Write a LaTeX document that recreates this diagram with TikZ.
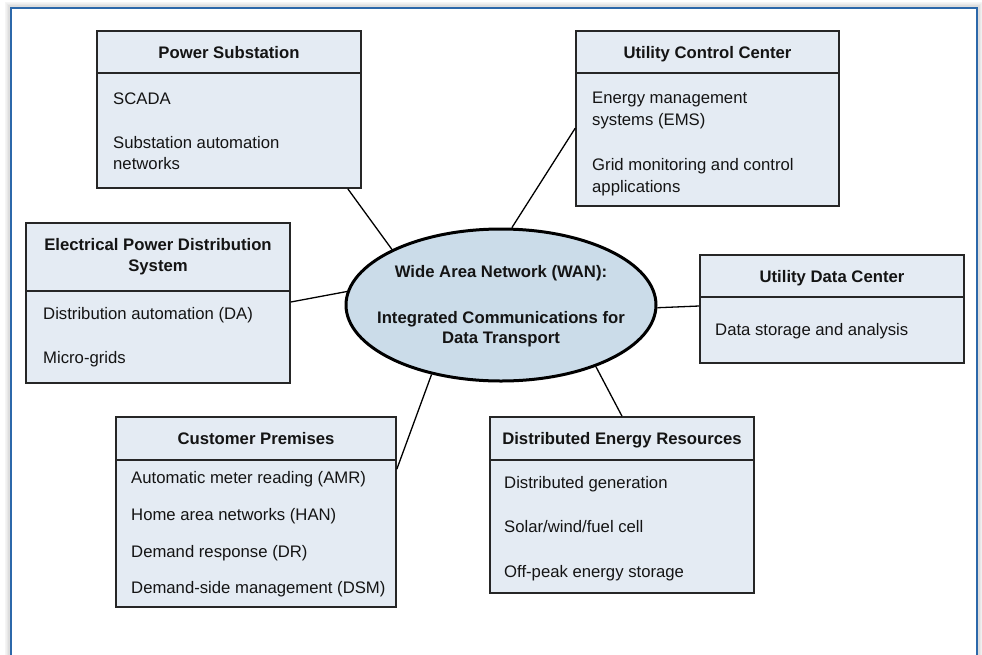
\documentclass[tikz,border=0pt]{standalone}
\usepackage{fontspec}
\setmainfont{Liberation Sans}
\usetikzlibrary{calc,shapes.geometric}
\definecolor{boxfill}{RGB}{228,235,243}
\definecolor{ellfill}{RGB}{203,220,233}
\definecolor{framec}{RGB}{44,104,170}
\begin{document}
\begin{tikzpicture}[x=1pt,y=-1pt,
  every node/.style={font=\fontsize{16.7}{21}\selectfont, text=black!92},
  infobox/.style={draw=black!85, line width=1.6pt, fill=boxfill, rectangle, inner sep=0pt},
  head/.style={font=\bfseries\fontsize{16.7}{21}\selectfont, anchor=base, inner sep=0pt},
  item/.style={anchor=base west, inner sep=0pt},
  divider/.style={line width=1.6pt, draw=black!85},
  link/.style={line width=1.3pt, draw=black}]
\useasboundingbox (0,0) rectangle (982,654);
% frame with shadow
\foreach \o/\c in {5/4,4/6,3/9,2/13}
  \draw[black!\c, line width=1.2pt] (11-\o,660) -- (11-\o,8-\o) -- (977+\o,8-\o) -- (977+\o,660);
\draw[framec, line width=2pt] (11,660) -- (11,8) -- (977,8) -- (977,660);

% central ellipse
\node[ellipse, draw=black, line width=3pt, fill=ellfill, minimum width=310pt, minimum height=152pt, inner sep=0pt] (wan) at (501,305) {};
\node[head] (wan-1) at (501,277) {Wide Area Network (WAN):};
\node[head] (wan-2) at (501,323) {Integrated Communications for};
\node[head] (wan-3) at (501,343) {Data Transport};

% Power Substation
\node[infobox, minimum width=264pt, minimum height=157pt] (ps) at (229,109.5) {};
\draw[divider] (ps.west |- 0,73) -- (ps.east |- 0,73);
\node[head] (ps-t) at (229,58) {Power Substation};
\node[item] (ps-1) at (113,104) {SCADA};
\node[item] (ps-2) at (113,148) {Substation automation};
\node[item] (ps-3) at (113,169) {networks};

% Utility Control Center
\node[infobox, minimum width=263pt, minimum height=175pt] (ucc) at (707.5,118.5) {};
\draw[divider] (ucc.west |- 0,73) -- (ucc.east |- 0,73);
\node[head] (ucc-t) at (707.5,58) {Utility Control Center};
\node[item] (ucc-1) at (592,103) {Energy management};
\node[item] (ucc-2) at (592,125) {systems (EMS)};
\node[item] (ucc-3) at (592,170) {Grid monitoring and control};
\node[item] (ucc-4) at (592,192) {applications};

% Electrical Power Distribution System
\node[infobox, minimum width=264pt, minimum height=160pt] (epds) at (158,303) {};
\draw[divider] (epds.west |- 0,291) -- (epds.east |- 0,291);
\node[head] (epds-t1) at (158,250) {Electrical Power Distribution};
\node[head] (epds-t2) at (158,271) {System};
\node[item] (epds-1) at (43,319) {Distribution automation (DA)};
\node[item] (epds-2) at (43,363) {Micro-grids};

% Utility Data Center
\node[infobox, minimum width=264pt, minimum height=108pt] (udc) at (832,309) {};
\draw[divider] (udc.west |- 0,297) -- (udc.east |- 0,297);
\node[head] (udc-t) at (832,282) {Utility Data Center};
\node[item] (udc-1) at (715,335) {Data storage and analysis};

% Customer Premises
\node[infobox, minimum width=280pt, minimum height=190pt] (cp) at (256,512) {};
\draw[divider] (cp.west |- 0,460) -- (cp.east |- 0,460);
\node[head] (cp-t) at (256,444) {Customer Premises};
\node[item] (cp-1) at (131,483) {Automatic meter reading (AMR)};
\node[item] (cp-2) at (131,520) {Home area networks (HAN)};
\node[item] (cp-3) at (131,557) {Demand response (DR)};
\node[item] (cp-4) at (131,593) {Demand-side management (DSM)};

% Distributed Energy Resources
\node[infobox, minimum width=264pt, minimum height=176pt] (der) at (622,505) {};
\draw[divider] (der.west |- 0,460) -- (der.east |- 0,460);
\node[head] (der-t) at (622,444) {Distributed Energy Resources};
\node[item] (der-1) at (504,488) {Distributed generation};
\node[item] (der-2) at (504,532) {Solar/wind/fuel cell};
\node[item] (der-3) at (504,577) {Off-peak energy storage};

% connectors
\draw[link] ([xshift=-14pt]ps.south east) -- (wan.153);
\draw[link] ([yshift=-98pt]ucc.north west) -- (wan.82);
\draw[link] ([yshift=1pt]epds.east) -- (wan.175.6);
\draw[link] ([yshift=3pt]udc.west) -- (wan.-1);
\draw[link] ([yshift=-53pt]cp.north east) -- (wan.225.4);
\draw[link] (der.north) -- (wan.-33);
\end{tikzpicture}
\end{document}
